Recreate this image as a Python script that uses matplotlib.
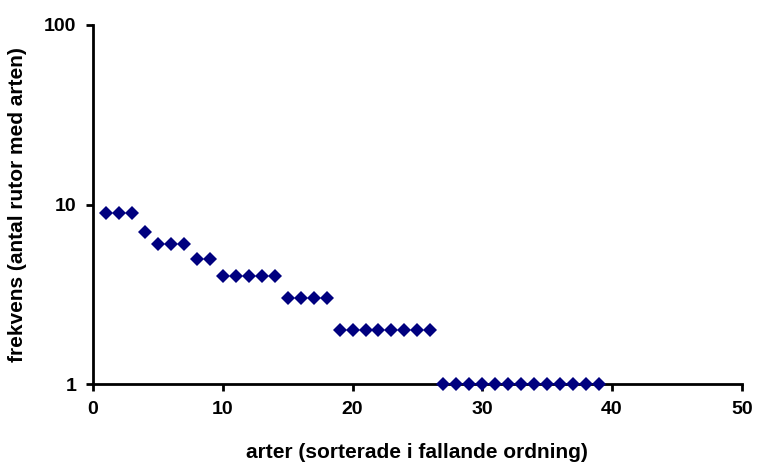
import matplotlib
matplotlib.use("Agg")
import matplotlib.pyplot as plt
from matplotlib.ticker import FixedLocator, NullLocator, FixedFormatter

plt.rcParams['font.family'] = ['Liberation Sans', 'DejaVu Sans']

arter = list(range(1, 40))
frekvens = [9, 9, 9, 7, 6, 6, 6, 5, 5,
            4, 4, 4, 4, 4, 3, 3, 3, 3,
            2, 2, 2, 2, 2, 2, 2, 2,
            1, 1, 1, 1, 1, 1, 1, 1, 1, 1, 1, 1, 1]
xticks = [0, 10, 20, 30, 40, 50]
yticks = [1, 10, 100]
ytick_labels = ["1", "10", "100"]

fig = plt.figure(figsize=(7.57, 4.62), dpi=100)
ax = fig.add_axes([0.1229, 0.1688, 0.857, 0.7771])
ax.plot(arter, frekvens, linestyle='none', marker='D', markersize=6.8,
        color='#00007f', markeredgewidth=0, clip_on=False, zorder=3)
ax.set_yscale('log')
ax.set_xlim(0, 50)
ax.set_ylim(1, 100)
ax.xaxis.set_major_locator(FixedLocator(xticks))
ax.yaxis.set_major_locator(FixedLocator(yticks))
ax.yaxis.set_major_formatter(FixedFormatter(ytick_labels))
ax.yaxis.set_minor_locator(NullLocator())
for s in ['top', 'right']:
    ax.spines[s].set_visible(False)
for s in ['left', 'bottom']:
    ax.spines[s].set_linewidth(2)
ax.tick_params(axis='both', direction='out', length=5, width=2,
               labelsize=14, pad=7)
for lab in ax.get_xticklabels() + ax.get_yticklabels():
    lab.set_fontweight('bold')
ax.set_xlabel('arter (sorterade i fallande ordning)', fontsize=15,
              fontweight='bold', labelpad=18)
ax.set_ylabel('frekvens (antal rutor med arten)', fontsize=15,
              fontweight='bold', labelpad=12)
fig.savefig('out.png', dpi=100)
